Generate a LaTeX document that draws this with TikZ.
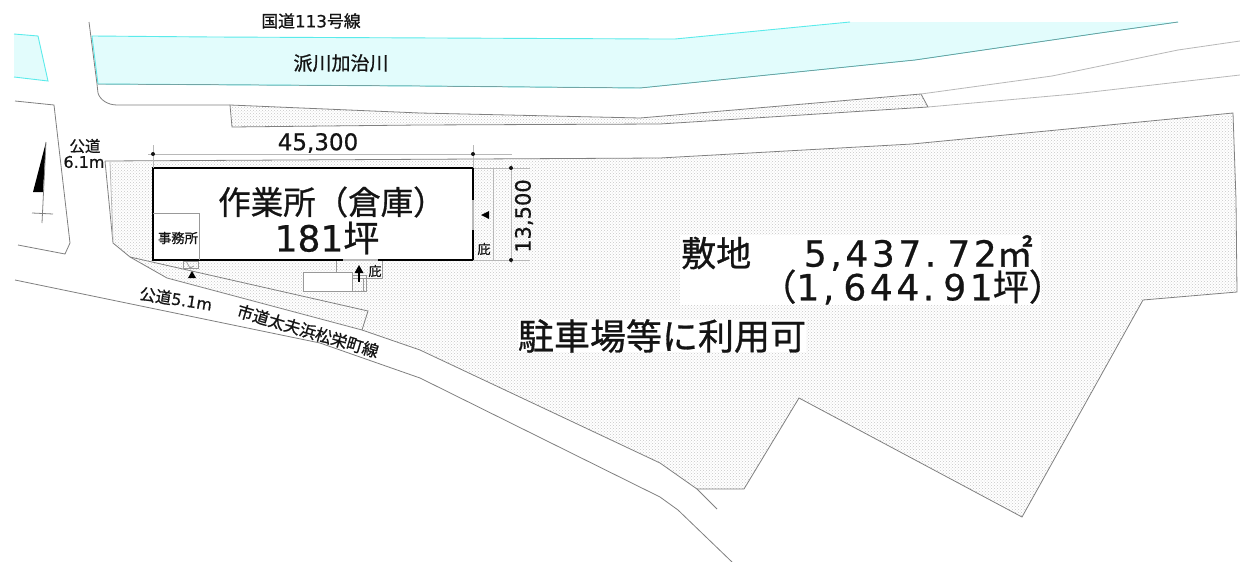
\documentclass[tikz,border=0pt]{standalone}
\usepackage{fontspec}
\usepackage{tikz}
\usetikzlibrary{patterns}
\setmainfont[FakeBold=0.6]{DejaVu Sans}
\newfontfamily\dv[FakeBold=0.6]{DejaVu Sans}
\newfontfamily\dvw[FakeBold=0.6,LetterSpace=10]{DejaVu Sans}
\newfontfamily\jp[FakeBold=0.8]{Noto Sans CJK JP}
\definecolor{ink}{gray}{0.08}
\definecolor{edge}{gray}{0.5}
\definecolor{lightedge}{gray}{0.72}
\definecolor{riverline}{RGB}{90,235,235}
\definecolor{riverfill}{RGB}{226,252,252}
\definecolor{sitedot}{gray}{0.78}
\tikzset{
  roadline/.style={draw=edge,line width=0.8pt},
  paleline/.style={draw=lightedge,line width=0.8pt},
  sitearea/.style={pattern=crosshatch dots,pattern color=sitedot},
  riverarea/.style={fill=riverfill},
  riveredge/.style={draw=riverline,line width=0.9pt},
  lab/.style={inner sep=0pt,text=ink,font=\jp},
  plate/.style={fill=white,draw=none},
  dimline/.style={draw=lightedge,line width=0.7pt},
  dimdot/.style={fill=ink,draw=none},
  blackarrow/.style={fill=black,draw=none},
  thinbox/.style={draw=edge!80,line width=0.8pt},
  wall/.style={draw=black,line width=2.3pt}
}
\begin{document}
\begin{tikzpicture}[x=1pt,y=-1pt]
\useasboundingbox (0,0) rectangle (1240,562);
\fill[white] (0,0) rectangle (1240,562);
% river
\fill[riverarea] (92,36) -- (213,37) -- (660,39) -- (675,39) -- (850,22) -- (1178,22) -- (1100,33) -- (915,60) -- (640,88) -- (420,86) -- (98,84) -- cycle;
\draw[riveredge] (98,84) -- (92,36) -- (213,37) -- (660,39) -- (675,39) -- (850,22);
\draw[riveredge] (98,84) -- (420,86) -- (640,88) -- (915,60) -- (1100,33) -- (1178,22);
\draw[draw=edge,line width=0.5pt] (98,84) -- (420,86) -- (640,88) -- (915,60) -- (1100,33) -- (1178,22);
\fill[riverarea] (14,34) -- (38,36) -- (48,81) -- (14,77) -- cycle;
\draw[riveredge] (14,34) -- (38,36) -- (48,81) -- (14,77);
% roads
\draw[roadline] (89,22) -- (97,84) -- (98,93) .. controls (100,100) and (108,105) .. (117,105) -- (230,105);
\draw[roadline] (15,101) -- (54,105) -- (70,243) -- (65,254) -- (18,245);
% strip
\path[sitearea] (230,105) -- (420,113) -- (640,118) -- (921,94) -- (928,107) -- (660,124) -- (420,125) -- (232,127) -- cycle;
\draw[roadline] (230,105) -- (420,113) -- (640,118) -- (921,94) -- (928,107) -- (660,124) -- (420,125) -- (232,127) -- cycle;
\draw[paleline] (921,94) -- (1052,76) -- (1178,50) -- (1240,41);
\draw[paleline] (928,107) -- (1074,94) -- (1240,75);
% site
\path[sitearea] (110,162) -- (660,158) -- (912,144) -- (1233,113) -- (1236,200) -- (1237,292) -- (1143,300) -- (1022,517) -- (799,398) -- (744,489) -- (697,489) -- (660,463) -- (420,350) -- (362,330) -- (167,278) -- (130,257) -- (113,243) -- cycle;
\draw[roadline] (105,161) -- (660,158) -- (912,144) -- (1233,113) -- (1236,200) -- (1237,292) -- (1143,300) -- (1022,517) -- (799,398) -- (744,489) -- (697,489) -- (660,463) -- (420,350) -- (362,330) -- (167,278) -- (130,257) -- (113,243) -- (105,161);
\draw[paleline] (110,162) -- (113,240);
\draw[roadline] (130,257) -- (368,311) -- (362,330);
\draw[roadline] (697,489) -- (717,509);
\draw[roadline] (15,280) -- (320,343) -- (420,378) -- (660,497) -- (678,510) -- (732,562);
% building
\fill[white] (153,168) rectangle (473,260);
\draw[paleline] (473,168) rectangle (493,260);
\draw[wall] (473,200) -- (473,168) -- (153,168) -- (153,260) -- (473,260) -- (473,230);
\draw[draw=lightedge,line width=2pt] (473,200) -- (473,230);
\draw[thinbox] (153,213) -- (199,213) -- (199,260);
\draw[thinbox] (183,261) rectangle (198,268);
\draw[thinbox] (186,261) -- (190,268) -- (194,266);
\draw[thinbox] (336,261) -- (336,278) -- (382,278) -- (382,261);
\draw[draw=lightedge,line width=2pt] (343,260) -- (378,260);
\draw[thinbox,fill=white] (303,272) rectangle (352,291);
\draw[thinbox] (352,275) rectangle (366,291);
\draw[thinbox] (352,278) -- (363,278) -- (363,291);
\fill[blackarrow] (192,271) -- (196,278) -- (188,278) -- cycle;
\fill[blackarrow] (359,265) -- (363.5,273) -- (354.5,273) -- cycle;
\draw[draw=black,line width=1.3pt] (359,270) -- (359,282);
\fill[blackarrow] (481,215) -- (489,211) -- (489,219) -- cycle;
% dimensions
\draw[dimline] (148,154) -- (512,154);
\draw[dimline] (153,145) -- (153,168);
\draw[dimline] (473,145) -- (473,168);
\draw[dimline] (511,165) -- (511,263);
\draw[dimline] (493,168) -- (530,168);
\draw[dimline] (473,260) -- (530,260);
\fill[dimdot] (153,154) circle (2pt);
\fill[dimdot] (473,154) circle (2pt);
\fill[dimdot] (511,168) circle (2pt);
\fill[dimdot] (511,260) circle (2pt);
% north
\fill[blackarrow] (46,142) -- (33,192) -- (43,192) -- cycle;
\draw[edge,line width=0.8pt] (46,142) -- (42,223);
\draw[edge,line width=0.8pt] (32,213) -- (53,214);
% plates
\fill[plate] (680,235) rectangle (1041,305);
\fill[plate] (518,320) rectangle (806,352);
% labels
\node[lab,font=\jp\fontsize{16.8}{17}\selectfont] (n1) at (311,21) {国道\dv 113\jp 号線};
\node[lab,font=\jp\fontsize{19}{19}\selectfont] (n2) at (341,63) {派川加治川};
\node[lab,font=\jp\fontsize{15.5}{16}\selectfont] (n3) at (85,146) {公道};
\node[lab,font=\dv\fontsize{16}{16}\selectfont] (n4) at (84,162) {6.1m};
\node[lab,font=\dv\fontsize{23}{23}\selectfont] (n5) at (318,143) {45,300};
\node[lab,font=\dv\fontsize{21}{21}\selectfont,rotate=90] (n6) at (524,216) {13,500};
\node[lab,font=\jp\fontsize{32.5}{33}\selectfont,anchor=west] (n7) at (218,202) {作業所（倉庫）};
\node[lab,font=\jp\fontsize{36}{36}\selectfont] (n8) at (327,238) {\dv 181\jp 坪};
\node[lab,font=\jp\fontsize{13.3}{13}\selectfont] (n9) at (178,238) {事務所};
\node[lab,font=\jp\fontsize{13}{13}\selectfont] (n10) at (484,249) {庇};
\node[lab,font=\jp\fontsize{13}{13}\selectfont] (n11) at (375,271) {庇};
\node[lab,font=\jp\fontsize{16}{16}\selectfont,rotate=-9] (n12) at (176,299) {公道\dv 5.1m};
\node[lab,font=\jp\fontsize{16.3}{16}\selectfont,rotate=-16.5] (n13) at (308,331) {市道太夫浜松栄町線};
\node[lab,font=\jp\fontsize{35}{35}\selectfont,anchor=west] (n14) at (681,253) {敷地};
\node[lab,font=\dvw\fontsize{36}{36}\selectfont,anchor=east] (n15) at (1033,253) {5,437.\hspace*{11pt}72\jp ㎡};
\node[lab,font=\dvw\fontsize{36}{36}\selectfont,anchor=east] (n16) at (1065,287) {\jp（\dvw 1,\hspace*{9pt}644.\hspace*{9pt}91\jp 坪）};
\node[lab,font=\jp\fontsize{36}{36}\selectfont] (n17) at (662,336) {駐車場等に利用可};
\end{tikzpicture}
\end{document}
